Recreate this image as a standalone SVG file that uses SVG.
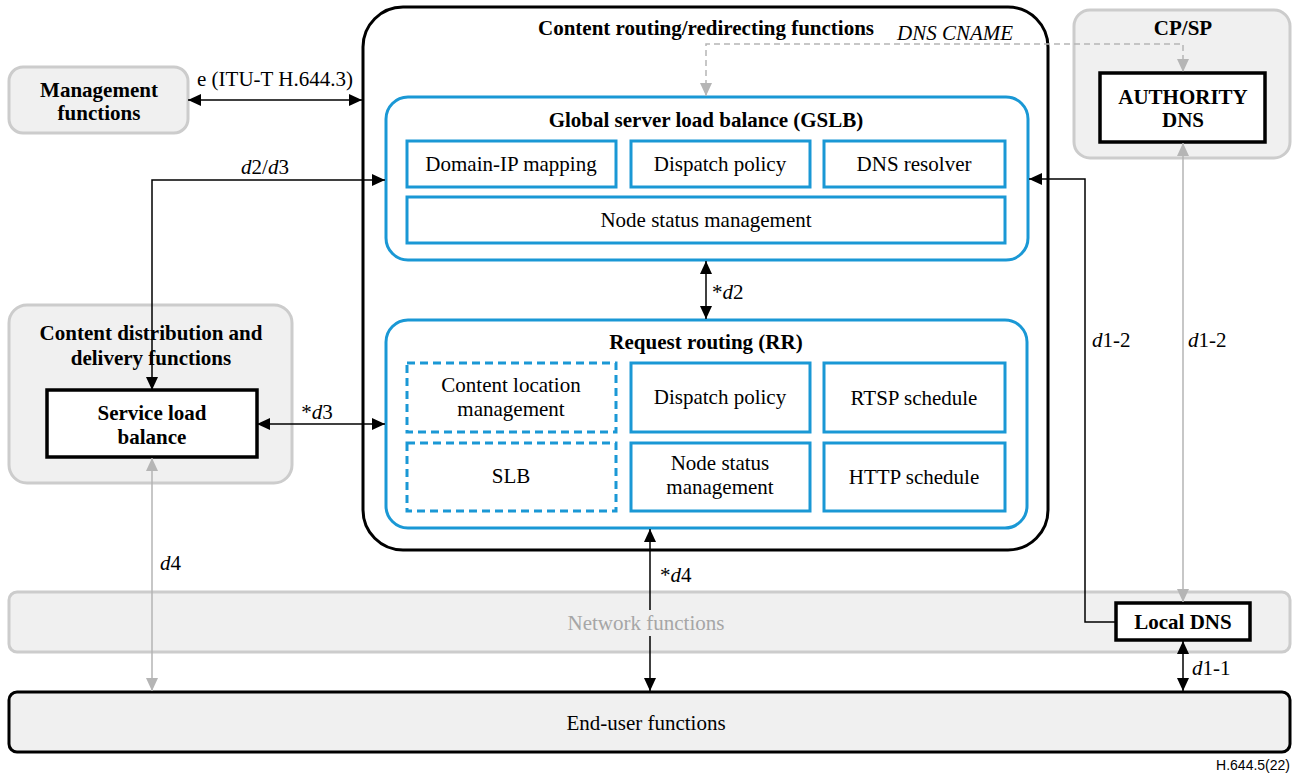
<svg xmlns="http://www.w3.org/2000/svg" width="1301" height="774" viewBox="0 0 1301 774">
  <defs>
    <marker id="ah" viewBox="0 0 13 12" refX="13" refY="6" markerWidth="13" markerHeight="12" markerUnits="userSpaceOnUse" orient="auto-start-reverse">
      <path d="M0,0 L13,6 L0,12 z" fill="#000"/>
    </marker>
    <marker id="ahg" viewBox="0 0 13 12" refX="13" refY="6" markerWidth="13" markerHeight="12" markerUnits="userSpaceOnUse" orient="auto-start-reverse">
      <path d="M0,0 L13,6 L0,12 z" fill="#b5b5b5"/>
    </marker>
  </defs>
  <style>
    text { font-family: "Liberation Serif", "Times New Roman", serif; font-size: 21px; fill: #000; }
    .b { font-weight: bold; }
    .i { font-style: italic; }
    .mid { text-anchor: middle; }
    .area { fill: #f0f0f0; stroke: #cccccc; stroke-width: 3; }
    .blk { fill: #fff; stroke: #000; stroke-width: 3.5; }
    .grp { fill: #fff; stroke: #1a98d5; stroke-width: 3; }
    .fn { fill: #fff; stroke: #1a98d5; stroke-width: 3; }
    .fnd { fill: #fff; stroke: #1a98d5; stroke-width: 3; stroke-dasharray: 8 5; }
    .c { fill: none; stroke: #000; stroke-width: 1.5; }
    .cg { fill: none; stroke: #b5b5b5; stroke-width: 1.5; }
    .cd { fill: none; stroke: #b5b5b5; stroke-width: 1.5; stroke-dasharray: 6 4; }
  </style>

  <rect width="1301" height="774" fill="#fff"/>

  <!-- Management functions -->
  <g id="management">
    <rect class="area" x="9" y="67" width="179" height="66" rx="14"/>
    <text class="b mid" x="99" y="97">Management</text>
    <text class="b mid" x="99" y="120">functions</text>
  </g>

  <!-- CP/SP with authority DNS -->
  <g id="cpsp">
    <rect class="area" x="1074" y="10" width="216" height="148" rx="16"/>
    <text class="b mid" x="1183" y="35">CP/SP</text>
  </g>
  <g id="authority-dns">
    <rect class="blk" x="1100" y="73" width="165" height="69"/>
    <text class="b mid" x="1183" y="104">AUTHORITY</text>
    <text class="b mid" x="1183" y="127">DNS</text>
  </g>

  <!-- Content distribution and delivery -->
  <g id="cdd">
    <rect class="area" x="9" y="305" width="283" height="178" rx="18"/>
    <text class="b mid" x="151" y="340">Content distribution and</text>
    <text class="b mid" x="151" y="365">delivery functions</text>
  </g>
  <g id="slb-node">
    <rect class="blk" x="47" y="390" width="210" height="67"/>
    <text class="b mid" x="152" y="420">Service load</text>
    <text class="b mid" x="152" y="444">balance</text>
  </g>

  <!-- Network functions -->
  <g id="network">
    <rect class="area" x="9" y="592" width="1281" height="60" rx="8"/>
  </g>

  <!-- End-user functions -->
  <g id="end-user">
    <rect x="9" y="692" width="1281" height="60" rx="8" fill="#f0f0f0" stroke="#000" stroke-width="3"/>
    <text class="mid" x="646" y="730">End-user functions</text>
  </g>

  <!-- Content routing/redirecting functions -->
  <g id="crr">
    <rect x="363" y="7" width="685" height="543" rx="40" fill="#fff" stroke="#000" stroke-width="3"/>
    <text class="b mid" x="706" y="35">Content routing/redirecting functions</text>
  </g>

  <!-- GSLB -->
  <g id="gslb">
    <rect class="grp" x="386" y="97" width="642" height="163" rx="22"/>
    <text class="b mid" x="706" y="127">Global server load balance (GSLB)</text>
    <rect class="fn" x="407" y="141" width="209" height="46"/>
    <text class="mid" x="511" y="171">Domain-IP mapping</text>
    <rect class="fn" x="631" y="141" width="179" height="46"/>
    <text class="mid" x="720" y="171">Dispatch policy</text>
    <rect class="fn" x="824" y="141" width="181" height="46"/>
    <text class="mid" x="914" y="171">DNS resolver</text>
    <rect class="fn" x="407" y="197" width="598" height="46"/>
    <text class="mid" x="706" y="227">Node status management</text>
  </g>

  <!-- Request routing -->
  <g id="rr">
    <rect class="grp" x="386" y="320" width="641" height="208" rx="22"/>
    <text class="b mid" x="706" y="349">Request routing (RR)</text>
    <rect class="fnd" x="407" y="363" width="209" height="69"/>
    <text class="mid" x="511" y="392">Content location</text>
    <text class="mid" x="511" y="416">management</text>
    <rect class="fn" x="631" y="363" width="179" height="69"/>
    <text class="mid" x="720" y="404">Dispatch policy</text>
    <rect class="fn" x="824" y="363" width="181" height="69"/>
    <text class="mid" x="914" y="405">RTSP schedule</text>
    <rect class="fnd" x="407" y="443" width="209" height="68"/>
    <text class="mid" x="511" y="483">SLB</text>
    <rect class="fn" x="631" y="443" width="179" height="68"/>
    <text class="mid" x="720" y="470">Node status</text>
    <text class="mid" x="720" y="494">management</text>
    <rect class="fn" x="824" y="443" width="181" height="68"/>
    <text class="mid" x="914" y="484">HTTP schedule</text>
  </g>

  <!-- Local DNS -->
  <g id="local-dns">
    <rect class="blk" x="1116" y="603" width="134" height="37"/>
    <text class="b mid" x="1183" y="629">Local DNS</text>
  </g>

  <!-- Connectors -->
  <g id="connectors">
    <line class="c" x1="188" y1="100" x2="362" y2="100" marker-start="url(#ah)" marker-end="url(#ah)"/>
    <path class="c" d="M152,390 L152,180 L385,180" marker-start="url(#ah)" marker-end="url(#ah)"/>
    <line class="c" x1="257" y1="424" x2="385" y2="424" marker-start="url(#ah)" marker-end="url(#ah)"/>
    <line class="c" x1="706" y1="261" x2="706" y2="319" marker-start="url(#ah)" marker-end="url(#ah)"/>
    <line class="c" x1="650" y1="529" x2="650" y2="691" marker-start="url(#ah)" marker-end="url(#ah)"/>
    <line class="cg" x1="152" y1="458" x2="152" y2="691" marker-start="url(#ahg)" marker-end="url(#ahg)"/>
    <path class="c" d="M1116,622 L1085,622 L1085,179 L1029,179" marker-end="url(#ah)"/>
    <line class="cg" x1="1183" y1="143" x2="1183" y2="602" marker-start="url(#ahg)" marker-end="url(#ahg)"/>
    <line class="c" x1="1183" y1="641" x2="1183" y2="691" marker-start="url(#ah)" marker-end="url(#ah)"/>
    <path class="cd" d="M706,96 L706,44 L1183,44 L1183,72" marker-start="url(#ahg)" marker-end="url(#ahg)"/>
  </g>

  <!-- Connector labels -->
  <g id="labels">
    <text class="mid" x="275" y="86">e (ITU-T H.644.3)</text>
    <text class="mid" x="265" y="174"><tspan class="i">d</tspan>2/<tspan class="i">d</tspan>3</text>
    <text class="i" x="897" y="40">DNS CNAME</text>
    <text x="712" y="299">*<tspan class="i">d</tspan>2</text>
    <text class="mid" x="317" y="419">*<tspan class="i">d</tspan>3</text>
    <text x="1092" y="347"><tspan class="i">d</tspan>1-2</text>
    <text x="1188" y="347"><tspan class="i">d</tspan>1-2</text>
    <text x="160" y="570"><tspan class="i">d</tspan>4</text>
    <text x="660" y="582">*<tspan class="i">d</tspan>4</text>
    <text x="1192" y="675"><tspan class="i">d</tspan>1-1</text>
  </g>

  <!-- Network functions label sits over the connector that crosses it -->
  <g id="network-label">
    <rect x="640" y="610" width="16" height="26" fill="#f0f0f0"/>
    <text class="mid" x="646" y="630" style="fill:#a6a6a6">Network functions</text>
  </g>

  <text x="1290" y="770" text-anchor="end" style="font-family:'Liberation Sans', Arial, sans-serif; font-size:14px">H.644.5(22)</text>
</svg>
